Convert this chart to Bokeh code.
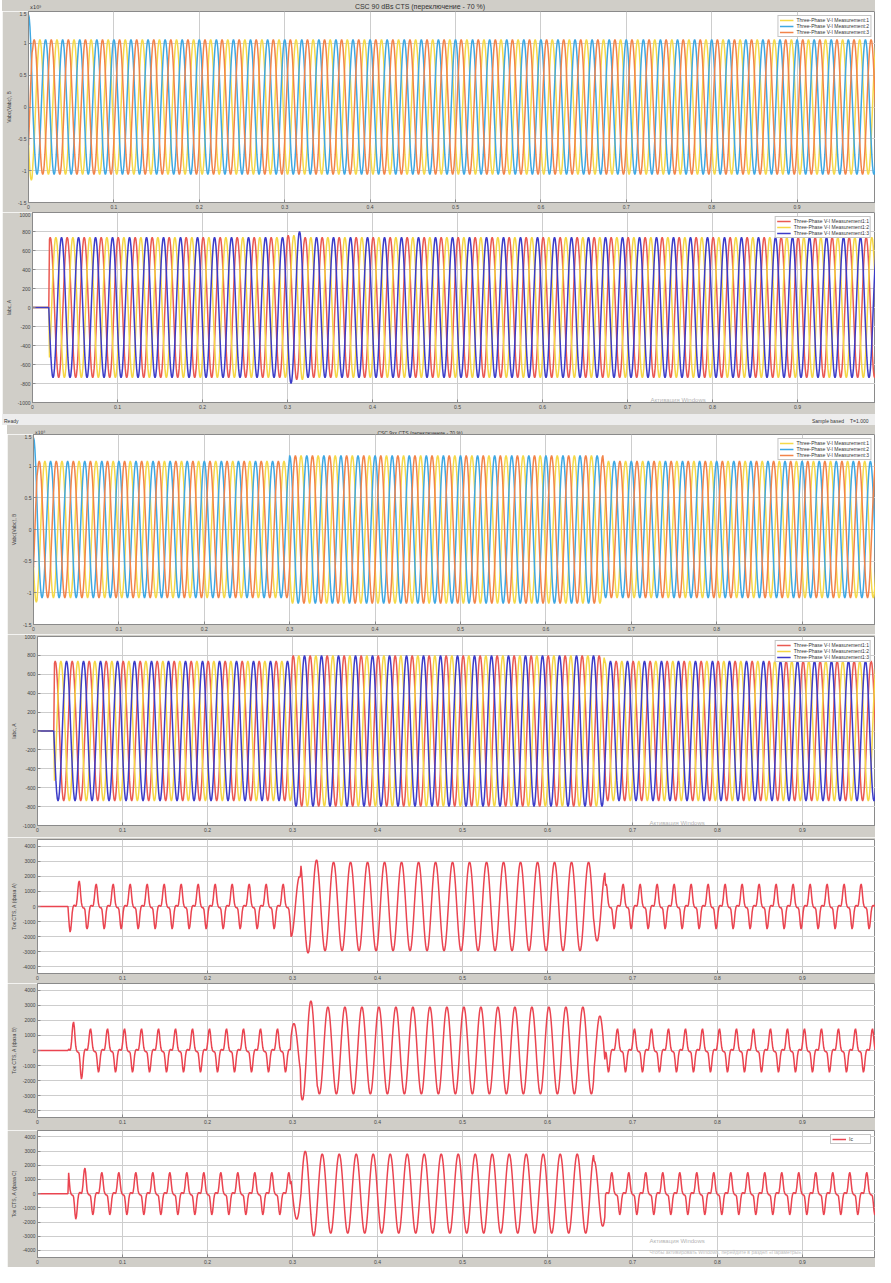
import numpy as np
from bokeh.plotting import figure
from bokeh.layouts import column, row, Spacer
from bokeh.models import Range1d, FixedTicker, Label, Legend, LegendItem, Div
from bokeh.embed import file_html
from bokeh.resources import INLINE

# ------------------------------------------------------------------ data
sample_rate = 1200          # 24 samples per 50 Hz cycle
t_stop = 1.0

# one cycle of each waveform shape (normalised)
cycle_sine = [0.0, 0.26, 0.5, 0.71, 0.87, 0.97, 1.0, 0.97, 0.87, 0.71, 0.5, 0.26,
              0.0, -0.26, -0.5, -0.71, -0.87, -0.97, -1.0, -0.97, -0.87, -0.71, -0.5, -0.26]
cycle_cts = [0.0, 0.08, 0.3, 0.65, 0.92, 1.0, 0.82, 0.45, 0.15, 0.02, -0.04, -0.06,
             -0.06, -0.14, -0.42, -0.8, -1.0, -0.9, -0.6, -0.25, -0.05, 0.03, 0.05, 0.03]
phase_shift = [0, 16, 8]    # samples, 0 / 240 / 120 degrees

x_ticks = [0, 0.1, 0.2, 0.3, 0.4, 0.5, 0.6, 0.7, 0.8, 0.9]
x_tick_labels = ["0", "0.1", "0.2", "0.3", "0.4", "0.5", "0.6", "0.7", "0.8", "0.9"]
v_ticks = [-1.5, -1, -0.5, 0, 0.5, 1, 1.5]
v_tick_labels = ["-1.5", "-1", "-0.5", "0", "0.5", "1", "1.5"]
i_ticks = [-1000, -800, -600, -400, -200, 0, 200, 400, 600, 800, 1000]
i_tick_labels = ["-1000", "-800", "-600", "-400", "-200", "0", "200", "400", "600", "800", "1000"]
c_ticks = [-4000, -3000, -2000, -1000, 0, 1000, 2000, 3000, 4000]
c_tick_labels = ["-4000", "-3000", "-2000", "-1000", "0", "1000", "2000", "3000", "4000"]

# window 1 : voltage (x10^5 V)
w1_volt_t = [0.0, 0.005, 1.0]
w1_volt_amp = [[1.15, 1.06], [1.45, 1.06], [1.2, 1.06]]
w1_volt_off = 14
# window 1 : current (A)
w1_curr_t = [0.0, 0.02, 0.3, 0.32, 1.0]
w1_curr_amp = [[0, 740, 760, 740], [0, 740, 760, 740], [0, 740, 800, 740]]
w1_curr_off = 5
# window 2 : voltage (x10^5 V)
w2_volt_t = [0.0, 0.005, 0.3, 0.667, 1.0]
w2_volt_amp = [[1.15, 1.08, 1.17, 1.08], [1.45, 1.08, 1.17, 1.08], [1.2, 1.08, 1.17, 1.08]]
w2_volt_off = 14
# window 2 : current (A)
w2_curr_t = [0.0, 0.02, 0.3, 0.667, 1.0]
w2_curr_amp = [[0, 740, 800, 740], [0, 740, 800, 740], [0, 740, 800, 740]]
w2_curr_off = 5

# window 2 : total CTS currents, phases A, B, C (A)
cts_t = [0.0, 0.036, 0.058, 0.298, 0.31, 0.33, 0.655, 0.668, 1.0]
cts_shape = ["cts", "cts", "cts", "sine", "sine", "sine", "sine", "cts"]
cts_a_amp = [0, 1700, 1500, 2000, 3100, 2950, 2300, 1500]
cts_b_amp = [0, 1900, 1450, 1800, 3300, 2900, 2300, 1450]
cts_c_amp = [0, 1800, 1500, 1800, 3000, 2800, 2300, 1500]
cts_a_off = [18, 18, 18, 20, 20, 20, 20, 18]
cts_b_off = [2, 2, 2, 4, 4, 4, 4, 2]
cts_c_off = [10, 10, 10, 12, 12, 12, 12, 10]

window1_title = "CSC 90 dBs CTS (переключение - 70 %)"
window2_title = "CSC 9xx CTS (переключение - 70 %)"
volt_legend = ["Three-Phase V-I Measurement:1", "Three-Phase V-I Measurement:2",
               "Three-Phase V-I Measurement:3"]
curr_legend = ["Three-Phase V-I Measurement1:1", "Three-Phase V-I Measurement1:2",
               "Three-Phase V-I Measurement1:3"]

# ------------------------------------------------------------------ style
FONT = "Liberation Sans"
FRAME = "#d0cec8"
GRIDC = "#cdcdcd"
volt_colors = ["#f5d94a", "#3fa8e2", "#f2844a"]
curr_colors = ["#ea5a52", "#f5d645", "#3c3cc8"]
cts_color = "#ea4450"
LW = 1.5

SHAPES = {"sine": np.asarray(cycle_sine), "cts": np.asarray(cycle_cts)}
t = np.arange(0, int(sample_rate * t_stop) + 1) / sample_rate
kk = np.arange(len(t))


def signal(seg_t, amps, shapes, offs):
    out = np.zeros(len(t))
    for i in range(len(amps)):
        m = (t >= seg_t[i] - 1e-9) & (t < seg_t[i + 1] - 1e-9)
        cyc = SHAPES[shapes[i]]
        out[m] = amps[i] * cyc[(kk[m] + offs[i]) % len(cyc)]
    return out


def three_phase(seg_t, amp_list, off):
    return [signal(seg_t, a, ["sine"] * len(a), [off + phase_shift[p]] * len(a))
            for p, a in enumerate(amp_list)]


def make_fig(width, top, frame_h, bottom, left, xe, yr, yticks, ylabels, ylabel):
    p = figure(width=width, height=top + frame_h + bottom,
               x_range=Range1d(0, xe), y_range=Range1d(*yr),
               output_backend="svg", toolbar_location=None,
               min_border=0, min_border_left=left, min_border_right=0,
               min_border_top=top, min_border_bottom=bottom,
               background_fill_color="white", border_fill_color=FRAME,
               outline_line_color="#8a8a8a")
    p.xaxis.ticker = FixedTicker(ticks=x_ticks)
    p.xaxis.major_label_overrides = dict(zip(x_ticks, x_tick_labels))
    p.yaxis.ticker = FixedTicker(ticks=yticks)
    p.yaxis.major_label_overrides = dict(zip(yticks, ylabels))
    for ax in (p.xaxis[0], p.yaxis[0]):
        ax.major_label_text_font_size = "5px"
        ax.major_label_text_color = "#444444"
        ax.major_label_text_font = FONT
        ax.major_tick_in = 3
        ax.major_tick_out = 0
        ax.minor_tick_line_color = None
        ax.axis_line_color = "#8a8a8a"
        ax.major_tick_line_color = "#8a8a8a"
        ax.major_label_standoff = 2
    p.yaxis.axis_label = ylabel
    p.yaxis.axis_label_text_font_size = "5px"
    p.yaxis.axis_label_text_font_style = "normal"
    p.yaxis.axis_label_text_font = FONT
    p.yaxis.axis_label_text_color = "#444444"
    p.yaxis.axis_label_standoff = 3
    p.xgrid.grid_line_color = GRIDC
    p.ygrid.grid_line_color = GRIDC
    return p


def bar(width, height, bg, items):
    spans = []
    for left, text, size, center, font in items:
        tr = "transform:translateX(-50%);" if center else ""
        top = (height - size) / 2.0 - 0.5
        spans.append(
            f'<span style="position:absolute;left:{left}px;top:{top}px;{tr}'
            f'font-family:\'{font}\';font-size:{size}px;line-height:{size + 1}px;'
            f'color:#333333;white-space:nowrap;">{text}</span>')
    html = (f'<div style="position:relative;width:{width}px;height:{height}px;'
            f'background:{bg};overflow:hidden;">' + "".join(spans) + '</div>')
    return Div(text=html, width=width, height=height, margin=0,
               styles={"background-color": bg, "overflow": "hidden"})


def add_legend(p, renderers, labels):
    lg = Legend(items=[LegendItem(label=l, renderers=[r]) for l, r in zip(labels, renderers)],
                location="top_right", label_text_font_size="5px", label_text_font=FONT,
                label_text_color="#333333", glyph_height=4, glyph_width=14,
                label_height=4, spacing=0, padding=1, margin=4, label_standoff=3,
                border_line_color="#8a8a8a", background_fill_alpha=1.0)
    p.add_layout(lg)


def txt(p, x, y, s, size="5px", color="#333333", align="left", font=FONT):
    p.add_layout(Label(x=x, y=y, text=s, text_font_size=size, text_font=font,
                       text_color=color, text_align=align, text_baseline="middle"))


W1, L1 = 873, 25
W2, L2 = 868, 25
XE1 = (W1 - L1) / 855.0
XE2 = (W2 - L2) / 855.0

# ---------------- window 1, title strip
pT1 = bar(W1, 11, FRAME, [(418, window1_title, 7, True, FONT),
                          (28, "x10⁵", 5, False, "DejaVu Sans")])

# ---------------- window 1, voltage
pA = make_fig(W1, 0, 191, 10, L1, XE1, (-1.5, 1.5), v_ticks, v_tick_labels, "Vabc(Vabc), B")
rs = []
for y, c in zip(three_phase(w1_volt_t, w1_volt_amp, w1_volt_off), volt_colors):
    rs.append(pA.line(t, y, line_color=c, line_width=LW))
add_legend(pA, rs, volt_legend)

# ---------------- window 1, current
pB = make_fig(W1, 0, 190, 12, L1, XE1, (-1000, 1000), i_ticks, i_tick_labels, "Iabc, A")
rs = []
for y, c in zip(three_phase(w1_curr_t, w1_curr_amp, w1_curr_off), curr_colors):
    rs.append(pB.line(t, y, line_color=c, line_width=LW))
add_legend(pB, rs, curr_legend)
txt(pB, 0.727, -975, "Активация Windows", size="6px", color="#b5b5b5")

# ---------------- status bar
pS = bar(W1, 11, "#ededed", [(2, "Ready", 5, False, FONT),
                             (810, "Sample based", 5, False, FONT),
                             (848, "T=1.000", 5, False, FONT)])

# ---------------- window 2, title strip
pT2 = bar(W2, 9, FRAME, [(413, window2_title, 5, True, FONT),
                         (28, "x10⁵", 4.5, False, "DejaVu Sans")])

# ---------------- window 2, voltage
pC = make_fig(W2, 0, 190, 10, L2, XE2, (-1.5, 1.5), v_ticks, v_tick_labels, "Vabc(Vabc), B")
rs = []
for y, c in zip(three_phase(w2_volt_t, w2_volt_amp, w2_volt_off), volt_colors):
    rs.append(pC.line(t, y, line_color=c, line_width=LW))
add_legend(pC, rs, volt_legend)

# ---------------- window 2, current
pD = make_fig(W2, 2, 189, 12, L2, XE2, (-1000, 1000), i_ticks, i_tick_labels, "Iabc, A")
rs = []
for y, c in zip(three_phase(w2_curr_t, w2_curr_amp, w2_curr_off), curr_colors):
    rs.append(pD.line(t, y, line_color=c, line_width=LW))
add_legend(pD, rs, curr_legend)
txt(pD, 0.72, -970, "Активация Windows", size="6px", color="#b5b5b5")

# ---------------- window 2, CTS phase A / B / C
pE = make_fig(W2, 2, 134, 10, L2, XE2, (-4450, 4450), c_ticks, c_tick_labels, "Ток CTS, А (фаза A)")
pE.line(t, signal(cts_t, cts_a_amp, cts_shape, cts_a_off), line_color=cts_color, line_width=LW)

pF = make_fig(W2, 0, 134, 13, L2, XE2, (-4450, 4450), c_ticks, c_tick_labels, "Ток CTS, А (фаза B)")
pF.line(t, signal(cts_t, cts_b_amp, cts_shape, cts_b_off), line_color=cts_color, line_width=LW)

pG = make_fig(W2, 0, 127, 10, L2, XE2, (-4500, 4450), c_ticks, c_tick_labels, "Ток CTS, А (фаза C)")
rG = pG.line(t, signal(cts_t, cts_c_amp, cts_shape, cts_c_off), line_color=cts_color, line_width=LW)
add_legend(pG, [rG], ["Ic"])
txt(pG, 0.72, -3370, "Активация Windows", size="6px", color="#b5b5b5")
txt(pG, 0.72, -4080, "Чтобы активировать Windows, перейдите в раздел «Параметры».",
    size="5px", color="#c0c0c0")

layout = column(
    row(Spacer(width=2), pT1),
    row(Spacer(width=2), pA),
    row(Spacer(width=2), pB),
    row(Spacer(width=2), pS),
    row(Spacer(width=7), pT2),
    row(Spacer(width=7), pC),
    row(Spacer(width=7), pD),
    row(Spacer(width=7), pE),
    row(Spacer(width=7), pF),
    row(Spacer(width=7), pG),
)

open("out.html", "w").write(file_html(layout, INLINE))
